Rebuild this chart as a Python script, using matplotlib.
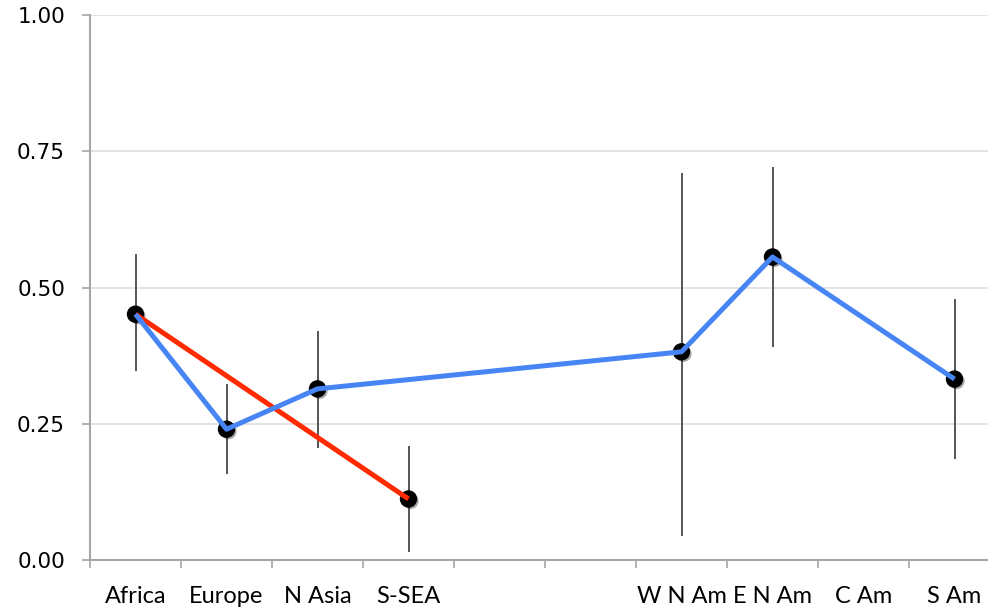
import numpy as np
import matplotlib
matplotlib.use('Agg')
import matplotlib.pyplot as plt
import matplotlib.patheffects as pe

# Regions along the x axis (two empty slots between the groups)
regions = ['Africa', 'Europe', 'N Asia', 'S-SEA', '', '', 'W N Am', 'E N Am', 'C Am', 'S Am']

# Point estimates with lower / upper bounds
pt_idx = [0, 1, 2, 3, 6, 7, 9]
pt_val = [0.451, 0.240, 0.314, 0.112, 0.382, 0.556, 0.332]
pt_low = [0.347, 0.158, 0.205, 0.015, 0.044, 0.391, 0.185]
pt_high = [0.561, 0.323, 0.420, 0.209, 0.710, 0.721, 0.479]

# Connecting lines
red_idx = [0, 3]
red_val = [0.451, 0.112]
blue_idx = [0, 1, 2, 6, 7, 9]
blue_val = [0.451, 0.240, 0.314, 0.382, 0.556, 0.332]

plt.rcParams['font.family'] = ['DejaVu Sans']

fig = plt.figure(figsize=(9.88, 6.08), dpi=100)
ax = fig.add_axes([90 / 988, 48 / 608, 910 / 988, 545 / 608])
ax.set_xlim(-0.5, 9.5)
ax.set_ylim(0, 1.0)

# grid
ax.set_yticks([0, 0.25, 0.5, 0.75, 1.0])
ax.set_yticklabels(['0.00', '0.25', '0.50', '0.75', '1.00'], fontsize=15.5)
ax.yaxis.grid(True, color='#dedede', lw=1.2)
ax.set_axisbelow(True)

# category boundaries as ticks, names centred between them
ax.set_xticks(np.arange(-0.5, 10, 1))
ax.set_xticklabels([])
ax.set_xticks(np.arange(len(regions)), minor=True)
ax.set_xticklabels(regions, minor=True, fontsize=17, family=['Lato', 'DejaVu Sans'])
ax.tick_params(axis='x', which='minor', length=0, pad=19)
ax.tick_params(axis='x', which='major', length=6, width=1.2, color='#a6a6a6')
ax.tick_params(axis='y', length=6, width=1.2, color='#a6a6a6', pad=12)

for side in ['top', 'right']:
    ax.spines[side].set_visible(False)
for side in ['left', 'bottom']:
    ax.spines[side].set_color('#a6a6a6')
    ax.spines[side].set_linewidth(1.5)

# error bars
ax.vlines(pt_idx, pt_low, pt_high, color='#555555', lw=1.4, zorder=2)

# points with a soft shadow
ax.plot(pt_idx, pt_val, 'o', color='black', ms=11.5, zorder=3,
        path_effects=[pe.SimplePatchShadow(offset=(1.5, -1.5), alpha=0.35), pe.Normal()])

# lines on top of the points
ax.plot(red_idx, red_val, color='#ff2a00', lw=3.6, zorder=4, solid_capstyle='butt')
ax.plot(blue_idx, blue_val, color='#4785f5', lw=3.6, zorder=5, solid_capstyle='butt')

fig.savefig('out.png', dpi=100)
